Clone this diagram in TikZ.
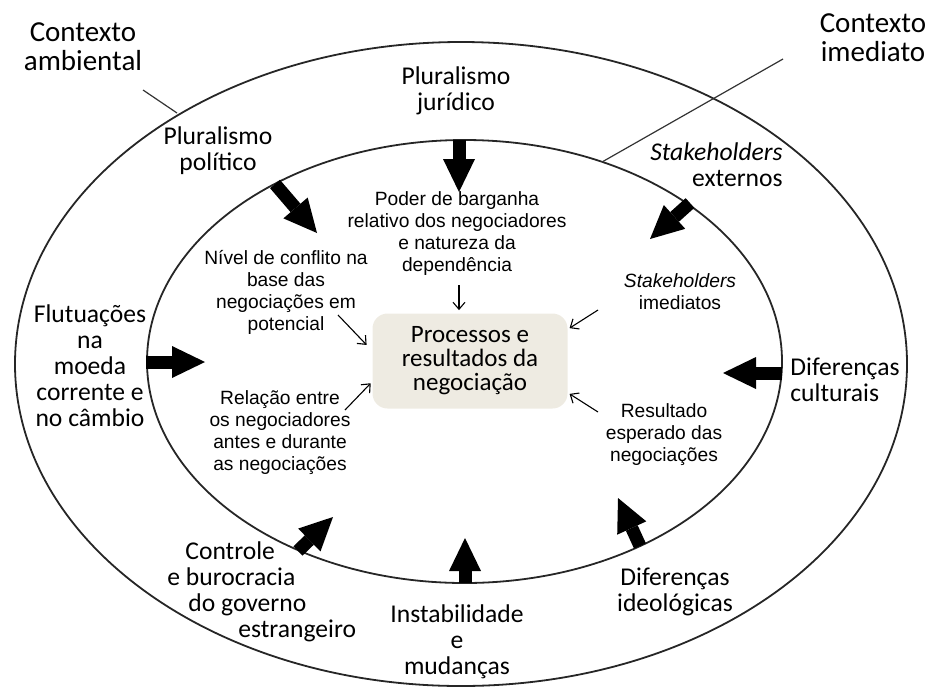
\documentclass[tikz,border=0pt]{standalone}
\usepackage{fontspec}
\setmainfont{Carlito}
\newfontfamily\arialfont{Liberation Sans}
\usetikzlibrary{arrows.meta}
\definecolor{procfill}{RGB}{238,235,226}
\begin{document}
\begin{tikzpicture}[x=0.5pt,y=-0.5pt,
    ring/.style={line width=0.9pt,black!85},
    ctxline/.style={line width=0.6pt,black!80},
    outer/.style={font=\fontsize{12.8}{13}\selectfont,align=center,inner sep=0pt},
    ctx/.style={font=\fontsize{14.5}{14.5}\selectfont,align=center,inner sep=0pt},
    inner/.style={font=\arialfont\fontsize{9.6}{11}\selectfont,align=center,inner sep=0pt},
    procbox/.style={rounded corners=7.5pt,fill=procfill,minimum width=97.5pt,minimum height=47.5pt,
        align=center,inner sep=0pt,font=\fontsize{12.5}{12}\selectfont},
    bigarrow/.style={line width=6.5pt,-{Triangle[length=16.5pt,width=16pt,line width=0pt]}},
    thinarrow/.style={line width=0.55pt,-{Straight Barb[length=3.5pt,width=6pt]}}]
\useasboundingbox (0,0) rectangle (935,686);
% the two contexts
\draw[ring] (461,364) ellipse [x radius=223pt,y radius=161pt];
\draw[ring] (464.5,361.5) ellipse [x radius=158.75pt,y radius=110.75pt];
\node[ctx] (amb) at (83,47) {Contexto\\ambiental};
\node[ctx] (imed) at (873,38) {Contexto\\imediato};
\coordinate (amb-l) at (143,90);
\coordinate (amb-r) at (177,113);
\coordinate (imed-r) at (783,59);
\coordinate (imed-l) at (602,162);
\draw[ctxline] (amb-l) -- (amb-r);
\draw[ctxline] (imed-r) -- (imed-l);
% centre
\node[procbox] (proc) at (470,361) {Processos e\\resultados da\\negociação};
% outer ring
\node[outer] (jur) at (456,91) {Pluralismo\\jurídico};
\node[outer] (pol) at (218,151) {Pluralismo\\político};
\node[outer,align=right,anchor=east] (ext) at (783,165) {\textit{Stakeholders}\\externos};
\node[outer] (flu) at (90,366) {Flutuações\\na\\moeda\\corrente e\\no câmbio};
\node[outer,align=left,anchor=west] (cul) at (790,380) {Diferenças\\culturais};
\node[outer,align=left,anchor=west] (con) at (167,592)
    {\hspace*{9pt}Controle\\e burocracia\\\hspace*{10.5pt}do governo\\\hspace*{35.5pt}estrangeiro};
\node[outer] (ins) at (457,642) {Instabilidade\\e\\mudanças};
\node[outer] (ide) at (675,592) {Diferenças\\ideológicas};
% inner ring
\node[inner] (dep) at (457,234) {Poder de barganha\\relativo dos negociadores\\e natureza da\\dependência};
\node[inner] (conf) at (286,292) {Nível de conflito na\\base das\\negociações em\\potencial};
\node[inner] (rel) at (280,433) {Relação entre\\os negociadores\\antes e durante\\as negociações};
\node[inner] (stk) at (680,292) {\textit{Stakeholders}\\imediatos};
\node[inner] (res) at (664,435) {Resultado\\esperado das\\negociações};
% big arrows, ellipse to inside
\coordinate (jur-a) at (459,140);  \coordinate (jur-b) at (459,192);
\coordinate (pol-a) at (275,184);  \coordinate (pol-b) at (317,233);
\coordinate (ext-a) at (690,203);  \coordinate (ext-b) at (650,239);
\coordinate (cul-a) at (782,373);  \coordinate (cul-b) at (723,373);
\coordinate (flu-a) at (146,362);  \coordinate (flu-b) at (205,362);
\coordinate (con-a) at (298,551);  \coordinate (con-b) at (333,517);
\coordinate (ins-a) at (465,583);  \coordinate (ins-b) at (465,538);
\coordinate (ide-a) at (640,546);  \coordinate (ide-b) at (618,498);
\foreach \a in {jur,pol,ext,cul,flu,con,ins,ide}
    \draw[bigarrow] (\a-a) -- (\a-b);
% thin arrows to the centre
\coordinate (dep-s) at (459,285);
\coordinate (conf-s) at (338,315);
\coordinate (rel-s) at (345,410);
\coordinate (stk-s) at (598,310);
\coordinate (res-s) at (598,412);
\draw[thinarrow,shorten >=1.5pt] (dep-s) -- (dep-s |- proc.north);
\draw[thinarrow,shorten >=4pt] (conf-s) -- (proc.174);
\draw[thinarrow,shorten >=1pt] (rel-s) -- (proc.192);
\draw[thinarrow,shorten >=1pt] (stk-s) -- (proc.18);
\draw[thinarrow,shorten >=1pt] (res-s) -- (proc.342);
\end{tikzpicture}
\end{document}
